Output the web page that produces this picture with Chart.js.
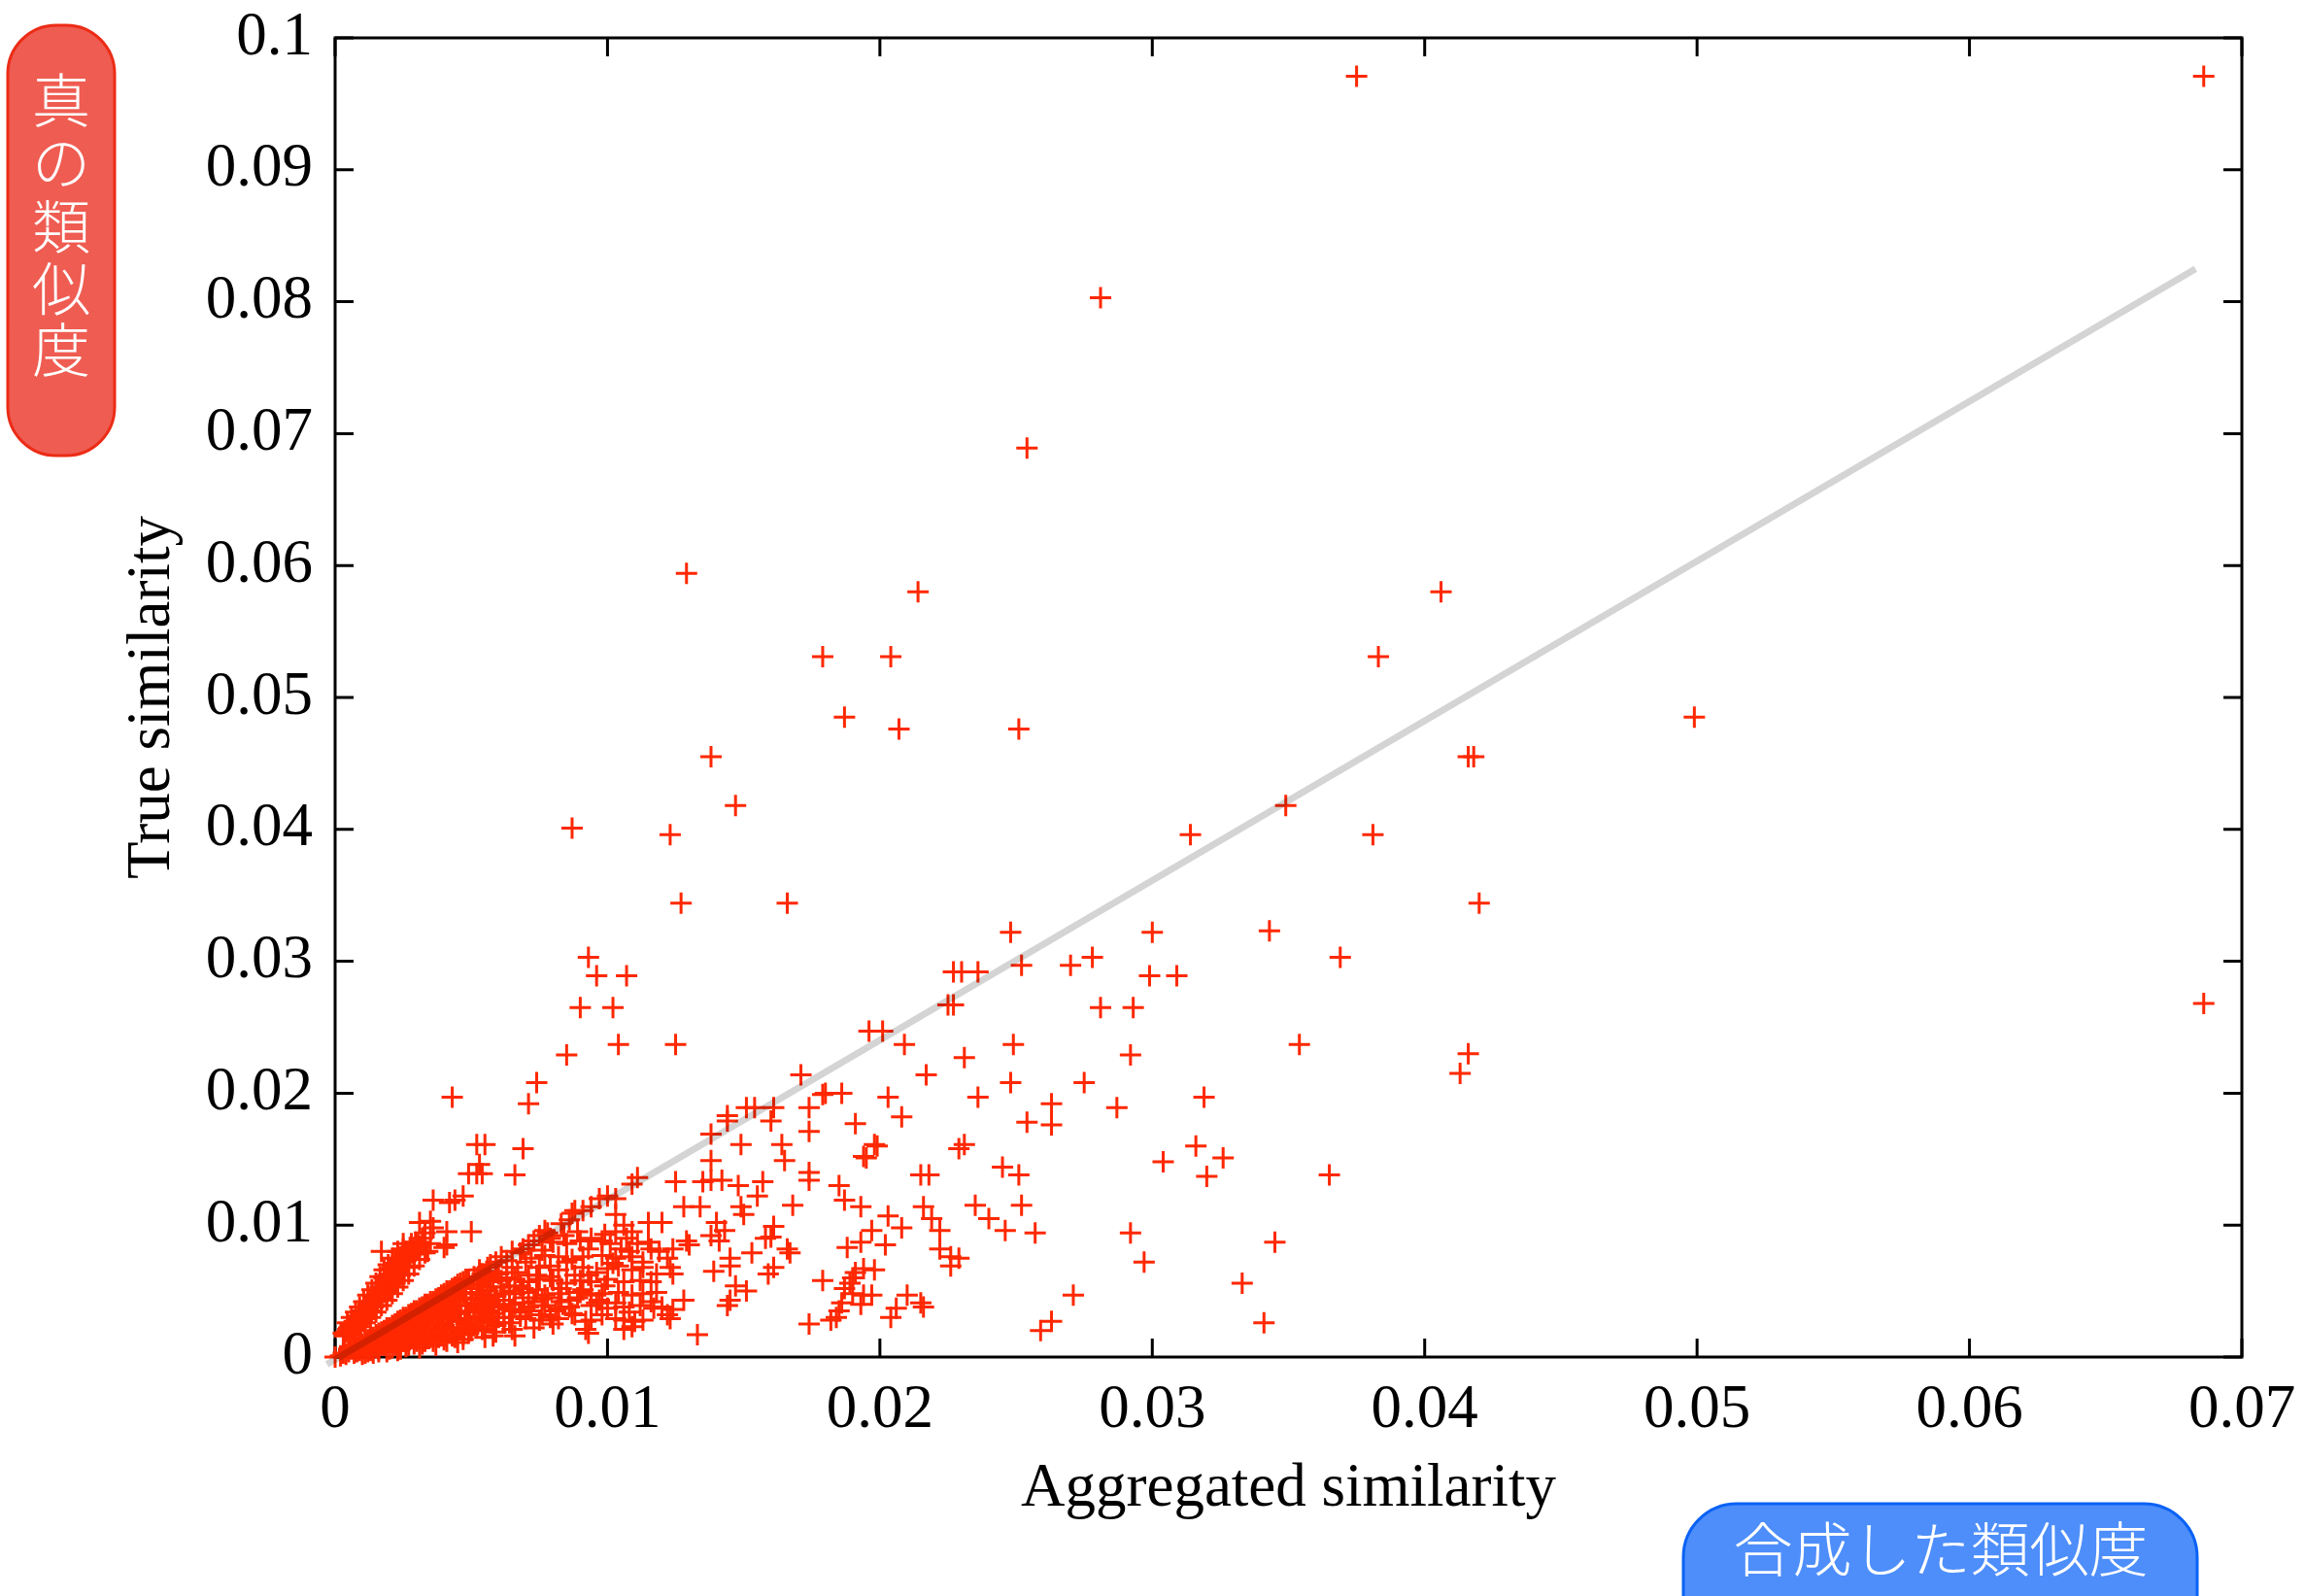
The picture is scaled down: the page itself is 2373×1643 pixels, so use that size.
<!DOCTYPE html>
<html>
<head>
<meta charset="utf-8">
<script src="https://cdn.jsdelivr.net/npm/chart.js@4/dist/chart.umd.min.js"></script>
<style>
html,body{margin:0;padding:0;background:#fff;}
#wrap{width:2373px;height:1643px;position:relative;}
</style>
</head>
<body>
<div id="wrap"><canvas id="c" width="2373" height="1643"></canvas></div>
<script>
// ---- labels ----
const xTickLabels = ['0','0.01','0.02','0.03','0.04','0.05','0.06','0.07'];
const yTickLabels = ['0','0.01','0.02','0.03','0.04','0.05','0.06','0.07','0.08','0.09','0.1'];
const xTitle = 'Aggregated similarity';
const yTitle = 'True similarity';
const yNote = ['真','の','類','似','度'];
const xNote = '合成した類似度';

// ---- grey reference line (two end points) ----
const fitX = [-0.0003, 0.0683];
const fitY = [-0.00056, 0.0825];

// ---- scatter values (aggregated similarity, true similarity) ----
const outerX = [0.0375,0.0686,0.0281,0.0254,0.0129,0.0214,0.0406,0.0179,0.0204,0.0383,
0.0187,0.0207,0.0251,0.0499,0.0138,0.0416,0.0418,0.0147,0.0349,0.0087,
0.0123,0.0314,0.0381,0.0127,0.0166,0.0420,0.0248,0.0300,0.0343,0.0093,
0.0369,0.0686];
const outerY = [0.0971,0.0971,0.0803,0.0689,0.0594,0.0580,0.0580,0.0531,0.0531,0.0531,
0.0485,0.0476,0.0476,0.0485,0.0455,0.0455,0.0455,0.0418,0.0418,0.0401,
0.0396,0.0396,0.0396,0.0344,0.0344,0.0344,0.0322,0.0322,0.0323,0.0303,
0.0303,0.0268];

const upperLeftX = [0.0096,0.0107,0.0090,0.0102,0.0104,0.0125,0.0085,0.0074,0.0043,0.0071,
0.0171,0.0179,0.0180,0.0174,0.0151,0.0154,0.0161,0.0144];
const upperLeftY = [0.0289,0.0289,0.0265,0.0265,0.0237,0.0237,0.0229,0.0208,0.0197,0.0192,
0.0214,0.0199,0.0200,0.0189,0.0189,0.0189,0.0189,0.0183];

const upperMidX = [0.0227,0.0230,0.0236,0.0252,0.0270,0.0278,0.0299,0.0309,0.0225,0.0227,
0.0281,0.0293,0.0196,0.0201,0.0209,0.0231,0.0249,0.0292,0.0354,0.0217,
0.0248,0.0275,0.0186,0.0203,0.0236,0.0263,0.0287,0.0319,0.0416,0.0413];
const upperMidY = [0.0292,0.0292,0.0292,0.0297,0.0297,0.0303,0.0289,0.0289,0.0267,0.0267,
0.0265,0.0265,0.0247,0.0247,0.0237,0.0227,0.0237,0.0229,0.0237,0.0214,
0.0208,0.0208,0.0200,0.0197,0.0197,0.0192,0.0189,0.0197,0.0230,0.0215];

const lowerMidX = [0.0191,0.0208,0.0254,0.0263,0.0199,0.0198,0.0195,0.0194,0.0229,0.0231,
0.0316,0.0304,0.0326,0.0320,0.0365,0.0215,0.0218,0.0245,0.0251,0.0185,
0.0187,0.0193,0.0203,0.0208,0.0197,0.0216,0.0219,0.0222,0.0235,0.0240,
0.0246,0.0252,0.0257,0.0292,0.0297,0.0345,0.0333,0.0341,0.0271,0.0263,
0.0259,0.0188,0.0193,0.0202,0.0222,0.0226,0.0229,0.0226,0.0194,0.0198,
0.0191,0.0190,0.0189,0.0187,0.0190,0.0194,0.0197,0.0193,0.0186,0.0185,
0.0184,0.0210,0.0206,0.0204,0.0215,0.0216];
const lowerMidY = [0.0177,0.0182,0.0178,0.0176,0.0160,0.0161,0.0151,0.0152,0.0158,0.0161,
0.0160,0.0148,0.0151,0.0137,0.0138,0.0138,0.0138,0.0144,0.0138,0.0130,
0.0119,0.0114,0.0107,0.0098,0.0096,0.0114,0.0105,0.0096,0.0115,0.0105,
0.0096,0.0115,0.0094,0.0094,0.0072,0.0087,0.0056,0.0026,0.0047,0.0027,
0.0020,0.0083,0.0087,0.0085,0.0082,0.0076,0.0075,0.0069,0.0067,0.0066,
0.0064,0.0060,0.0056,0.0052,0.0048,0.0047,0.0047,0.0040,0.0041,0.0035,
0.0030,0.0047,0.0037,0.0030,0.0041,0.0038];

const steepX = [0.0052,0.0055,0.0069,0.0053,0.0049,0.0052,0.0054,0.0066,0.0036,0.0042,
0.0044,0.0047,0.0031,0.0035,0.0036,0.0041,0.0050,0.0017,0.0025,0.0028,
0.0031,0.0034,0.0040,0.0041,0.0027,0.0025,0.0023,0.0022,0.0020,0.0018,
0.0017,0.0015,0.0013,0.0011,0.00095,0.00077,0.0006,0.00047,0.0029,0.0026,
0.0024,0.0021,0.0024,0.0019,0.0022,0.0016,0.0019,0.0014,0.0017,0.0012,
0.0015,0.0010,0.0013,0.00085,0.0011,0.0007,0.0009,0.00055,0.00075,0.0004,
0.0006,0.0030,0.0032,0.0026,0.0020,0.0018,0.0027,0.0033,0.0022];
const steepY = [0.0161,0.0161,0.0158,0.0146,0.0139,0.0139,0.0139,0.0138,0.0119,0.0117,
0.0119,0.0122,0.0102,0.0103,0.0098,0.0095,0.0095,0.0080,0.0082,0.0086,
0.0084,0.0080,0.0083,0.0085,0.0075,0.0069,0.0065,0.0060,0.0055,0.0052,
0.0048,0.0043,0.0038,0.0033,0.0030,0.0026,0.0023,0.0021,0.0078,0.0073,
0.0070,0.0063,0.0062,0.0058,0.0056,0.0050,0.0049,0.0045,0.0044,0.0040,
0.0039,0.0035,0.0034,0.0031,0.0029,0.0027,0.0025,0.0024,0.0022,0.0019,
0.0018,0.0081,0.0090,0.0080,0.0066,0.0060,0.0068,0.0094,0.0071];

const steepExtraX = [0.00035,0.0005,0.0005,0.00065,0.00065,0.0008,0.0008,0.0009,0.0010,0.0010,
0.0011,0.00115,0.00125,0.00125,0.00135,0.0014,0.00145,0.00155,0.0016,0.00165,
0.0017,0.00175,0.00185,0.00185,0.00195,0.0020,0.00205,0.0021,0.00215,0.00225,
0.0023,0.00235,0.00245,0.0025,0.00255,0.00265,0.00275,0.00285,0.00295,0.00305];
const steepExtraY = [0.0016,0.0019,0.0022,0.0021,0.0025,0.0024,0.0028,0.0027,0.0032,0.0028,
0.0035,0.0031,0.0039,0.0035,0.0042,0.0038,0.0046,0.0042,0.0048,0.0053,
0.0046,0.0056,0.0050,0.0055,0.0062,0.0058,0.0060,0.0068,0.0064,0.0068,
0.0073,0.0067,0.0076,0.0072,0.0079,0.0077,0.0083,0.0081,0.0087,0.0085];

const steepEdgeX = [0.0007,0.0009,0.0011,0.0013,0.0015,0.0017,0.0019,0.0021,0.0023,0.0025,
0.0027,0.0029,0.0031,0.0033,0.0035,0.0003,0.00045,0.0006,0.00075,0.0009,
0.00105,0.0012,0.00135,0.0015,0.00165,0.0018,0.00195,0.0021,0.0023,0.0025];
const steepEdgeY = [0.0020,0.0023,0.0026,0.0030,0.0034,0.0039,0.0043,0.0048,0.0053,0.0058,
0.0063,0.0069,0.0074,0.0079,0.0086,0.0018,0.0026,0.0030,0.0034,0.0038,
0.0042,0.0047,0.0051,0.0056,0.0061,0.0066,0.0070,0.0075,0.0080,0.0086];

const midX = [0.0144,0.0138,0.0160,0.0174,0.0164,0.0149,0.0138,0.0165,0.0174,0.0174,
0.0125,0.0135,0.0138,0.0142,0.0148,0.0157,0.0155,0.0128,0.0134,0.0149,
0.0150,0.0168,0.0140,0.0143,0.0138,0.0141,0.0161,0.0160,0.0158,0.0166,
0.0167,0.0153,0.0145,0.0145,0.0139,0.0161,0.0159,0.0147,0.0151,0.0145,
0.0144,0.0179,0.0174,0.0182,0.0133,0.0129,0.0130,0.0124,0.0120,0.0115,
0.0122,0.0123,0.0124,0.0118,0.0116,0.0128,0.0124,0.0122,0.0111,0.0109,
0.0103,0.0103,0.0097,0.0094,0.0087,0.0086,0.0088,0.0077,0.0075,0.0071,
0.0069,0.0061,0.0059,0.0056,0.0089,0.0103,0.0109,0.0080,0.0085,0.0090,
0.0094,0.0098,0.0101,0.0105,0.0107,0.0111,0.0115,0.0116,0.0119,0.0072,
0.0077,0.0082,0.0087,0.0091,0.0098,0.0103,0.0109,0.0075,0.0082,0.0091,
0.0100,0.0104,0.0109,0.0113,0.0061,0.0066,0.0071,0.0075,0.0080,0.0085,
0.0090,0.0094,0.0100,0.0106,0.0112,0.0066,0.0071,0.0077,0.0082,0.0090,
0.0094,0.0098,0.0104,0.0109,0.0113,0.0118,0.0071,0.0077,0.0082,0.0086,
0.0094,0.0100,0.0106,0.0112,0.0117,0.0120,0.0075,0.0082,0.0092,0.0094,
0.0103,0.0106,0.0110,0.0113,0.0123,0.0106,0.0109,0.0093,0.0092,0.0055,
0.0058,0.0065,0.0066,0.0045,0.0047,0.0078,0.0083,0.0091,0.0100,0.0065];
const midY = [0.0179,0.0169,0.0179,0.0171,0.0161,0.0161,0.0149,0.0149,0.0140,0.0134,
0.0133,0.0133,0.0134,0.0134,0.0130,0.0133,0.0122,0.0114,0.0114,0.0114,
0.0108,0.0115,0.0102,0.0096,0.0092,0.0088,0.0099,0.0091,0.0090,0.0082,
0.0079,0.0079,0.0075,0.0069,0.0065,0.0068,0.0063,0.0054,0.0050,0.0043,
0.0039,0.0058,0.0025,0.0028,0.0017,0.0088,0.0085,0.0082,0.0102,0.0102,
0.0075,0.0068,0.0063,0.0063,0.0057,0.0043,0.0036,0.0032,0.0136,0.0131,
0.0120,0.0108,0.0120,0.0114,0.0109,0.0104,0.0111,0.0096,0.0092,0.0085,
0.0082,0.0076,0.0072,0.0068,0.0095,0.0095,0.0095,0.0087,0.0086,0.0088,
0.0090,0.0088,0.0086,0.0082,0.0090,0.0086,0.0087,0.0082,0.0080,0.0075,
0.0077,0.0076,0.0074,0.0076,0.0077,0.0075,0.0076,0.0068,0.0066,0.0068,
0.0067,0.0069,0.0066,0.0068,0.0058,0.0059,0.0057,0.0059,0.0058,0.0056,
0.0058,0.0057,0.0059,0.0057,0.0058,0.0048,0.0049,0.0047,0.0048,0.0049,
0.0047,0.0048,0.0049,0.0047,0.0048,0.0049,0.0038,0.0039,0.0037,0.0038,
0.0039,0.0037,0.0038,0.0039,0.0037,0.0038,0.0028,0.0029,0.0027,0.0028,
0.0029,0.0028,0.0027,0.0028,0.0029,0.0021,0.0023,0.0018,0.0021,0.0015,
0.0016,0.0021,0.0016,0.0011,0.00135,0.0094,0.0101,0.0111,0.0122,0.0080];

const midExtraX = [0.0053,0.0057,0.0063,0.0068,0.0073,0.0079,0.0065,0.0070,0.0076,0.0084,
0.0062,0.0069,0.0074,0.0079,0.0085,0.0093,0.0099,0.0106,0.0088,0.0096,
0.0102,0.0108,0.0113,0.0064,0.0069,0.0076,0.0083,0.0089,0.0097,0.0103,
0.0080,0.0087,0.0098,0.0108,0.0116,0.0073,0.0062,0.0068,0.0059,0.0079];
const midExtraY = [0.0066,0.0070,0.0073,0.0079,0.0088,0.0090,0.0068,0.0072,0.0081,0.0092,
0.0048,0.0052,0.0062,0.0069,0.0072,0.0082,0.0093,0.0100,0.0062,0.0064,
0.0071,0.0080,0.0072,0.0036,0.0041,0.0044,0.0042,0.0045,0.0043,0.0041,
0.0025,0.0033,0.0032,0.0034,0.0042,0.0022,0.0026,0.0034,0.0019,0.0030];

const coreX = [0,0.0003,0.0005,0.0006,0.0007,0.0008,0.0009,0.0010,0.0010,0.0011,
0.0012,0.0012,0.0013,0.0014,0.0014,0.0015,0.0016,0.0016,0.0017,0.0018,
0.0018,0.0019,0.0019,0.0020,0.0020,0.0021,0.0022,0.0022,0.0023,0.0023,
0.0024,0.0024,0.0025,0.0025,0.0026,0.0026,0.0027,0.0027,0.0028,0.0028,
0.0029,0.0029,0.0030,0.0030,0.0031,0.0031,0.0032,0.0032,0.0033,0.0033,
0.0034,0.0034,0.0035,0.0035,0.0036,0.0036,0.0037,0.0037,0.0038,0.0038,
0.0039,0.0039,0.0040,0.0040,0.0041,0.0041,0.0042,0.0042,0.0043,0.0043,
0.0044,0.0044,0.0045,0.0045,0.0046,0.0046,0.0047,0.0047,0.0048,0.0048,
0.0049,0.0049,0.0050,0.0050,0.0051,0.0051,0.0052,0.0052,0.0053,0.0053,
0.0054,0.0054,0.0055,0.0055,0.0056,0.0056,0.0057,0.0058,0.0058,0.0059,
0.0059,0.0060,0.0060,0.0061,0.0062,0.0062,0.0063,0.0064,0.0064,0.0065,
0.0066,0.0067,0.0068,0.0068,0.0069,0.0070,0.0071,0.0072,0.0073,0.0074,
0.0076,0.0078,0.0079,0.0081,0.0083,0.0086,0.0088,0.0091,0.0093,0.0096,
0.0099];
const coreY = [0,0.0003,0.0004,0.0006,0.0003,0.0008,0.0005,0.0010,0.0002,0.0007,
0.0013,0.0004,0.0009,0.0015,0.0003,0.0011,0.0006,0.0018,0.0014,0.0009,
0.0020,0.0004,0.0016,0.0022,0.0012,0.0007,0.0019,0.0025,0.0014,0.0005,
0.0028,0.0010,0.0022,0.0017,0.0030,0.0008,0.0025,0.0013,0.0033,0.0020,
0.0010,0.0028,0.0035,0.0016,0.0023,0.0007,0.0038,0.0019,0.0030,0.0012,
0.0040,0.0026,0.0015,0.0034,0.0042,0.0021,0.0009,0.0037,0.0045,0.0029,
0.0017,0.0033,0.0048,0.0024,0.0012,0.0040,0.0050,0.0030,0.0020,0.0036,
0.0053,0.0015,0.0043,0.0027,0.0056,0.0033,0.0022,0.0048,0.0059,0.0039,
0.0018,0.0029,0.0052,0.0044,0.0035,0.0024,0.0060,0.0040,0.0030,0.0055,
0.0021,0.0047,0.0037,0.0062,0.0027,0.0050,0.0042,0.0033,0.0058,0.0024,
0.0046,0.0063,0.0038,0.0053,0.0030,0.0043,0.0060,0.0026,0.0050,0.0035,
0.0040,0.0064,0.0031,0.0054,0.0045,0.0029,0.0062,0.0035,0.0042,0.0051,
0.0032,0.0045,0.0061,0.0035,0.0052,0.0043,0.0032,0.0051,0.0062,0.0041,
0.0054];

const coreExtraX = [0.0002,0.0004,0.0005,0.0007,0.0008,0.0009,0.0010,0.0011,0.0011,0.0012,
0.0013,0.0013,0.0014,0.0015,0.0015,0.0016,0.0016,0.0017,0.0017,0.0018,
0.0019,0.0019,0.0020,0.0020,0.0021,0.0021,0.0022,0.0022,0.0023,0.0023,
0.0024,0.0024,0.0025,0.0025,0.0026,0.0026,0.0027,0.0027,0.0028,0.0028,
0.0029,0.0029,0.0030,0.0030,0.0031,0.0031,0.0032,0.0032,0.0033,0.0033,
0.0034,0.0034,0.0035,0.0035,0.0036,0.0036,0.0037,0.0037,0.0038,0.0038,
0.0039,0.0039,0.0040,0.0040,0.0041,0.0041,0.0042,0.0042,0.0043,0.0043,
0.0044,0.0044,0.0045,0.0045,0.0046,0.0046,0.0047,0.0047,0.0048,0.0048,
0.0049,0.0049,0.0050,0.0050,0.0051,0.0051,0.0052,0.0052,0.0053,0.0053,
0.0054,0.0054,0.0055,0.0056,0.0056,0.0057,0.0057,0.0058,0.0059,0.0060];
const coreExtraY = [0.0001,0.0002,0.0006,0.0008,0.0004,0.0010,0.0006,0.0012,0.0003,0.0008,
0.0015,0.0005,0.0011,0.0017,0.0007,0.0013,0.0004,0.0019,0.0009,0.0015,
0.0022,0.0011,0.0006,0.0018,0.0024,0.0014,0.0009,0.0021,0.0027,0.0017,
0.0006,0.0023,0.0030,0.0012,0.0020,0.0026,0.0032,0.0009,0.0016,0.0029,
0.0035,0.0022,0.0012,0.0031,0.0037,0.0018,0.0027,0.0010,0.0040,0.0022,
0.0033,0.0014,0.0042,0.0025,0.0036,0.0012,0.0044,0.0020,0.0031,0.0015,
0.0047,0.0026,0.0038,0.0013,0.0050,0.0029,0.0042,0.0022,0.0052,0.0016,
0.0034,0.0046,0.0055,0.0021,0.0039,0.0028,0.0057,0.0017,0.0044,0.0025,
0.0059,0.0034,0.0020,0.0049,0.0061,0.0031,0.0045,0.0023,0.0059,0.0038,
0.0063,0.0029,0.0044,0.0060,0.0035,0.0026,0.0053,0.0040,0.0064,0.0030];

const groupsX = [outerX, upperLeftX, upperMidX, lowerMidX, steepX, steepExtraX, steepEdgeX, midX, midExtraX, coreX, coreExtraX];
const groupsY = [outerY, upperLeftY, upperMidY, lowerMidY, steepY, steepExtraY, steepEdgeY, midY, midExtraY, coreY, coreExtraY];
const points = [];
groupsX.forEach((gx, g) => {
  const gy = groupsY[g];
  const n = Math.min(gx.length, gy.length);
  for (let i = 0; i < n; i++) points.push({x: gx[i], y: gy[i]});
});
const fitLine = fitX.map((x, i) => ({x: x, y: fitY[i]}));

// ---- style ----
const RED = 'rgb(255,40,0)';
const SERIF = '"Liberation Serif","Times New Roman",serif';
const CJK = '"Noto Sans CJK JP","Noto Sans CJK SC",sans-serif';

const framePlugin = {
  id: 'frame',
  beforeDatasetsDraw(chart) {
    const {ctx, chartArea: a, scales: {x, y}} = chart;
    ctx.save();
    ctx.strokeStyle = '#000';
    ctx.lineWidth = 3;
    ctx.strokeRect(a.left, a.top, a.right - a.left, a.bottom - a.top);
    const L = 19;
    ctx.beginPath();
    x.ticks.forEach(t => {
      const px = x.getPixelForValue(t.value);
      ctx.moveTo(px, a.bottom); ctx.lineTo(px, a.bottom - L);
      ctx.moveTo(px, a.top); ctx.lineTo(px, a.top + L);
    });
    y.ticks.forEach(t => {
      const py = y.getPixelForValue(t.value);
      ctx.moveTo(a.left, py); ctx.lineTo(a.left + L, py);
      ctx.moveTo(a.right, py); ctx.lineTo(a.right - L, py);
    });
    ctx.stroke();
    ctx.restore();
  }
};

function roundBox(ctx, x, y, w, h, r) {
  ctx.beginPath();
  ctx.moveTo(x + r, y);
  ctx.lineTo(x + w - r, y);
  ctx.arcTo(x + w, y, x + w, y + r, r);
  ctx.lineTo(x + w, y + h - r);
  ctx.arcTo(x + w, y + h, x + w - r, y + h, r);
  ctx.lineTo(x + r, y + h);
  ctx.arcTo(x, y + h, x, y + h - r, r);
  ctx.lineTo(x, y + r);
  ctx.arcTo(x, y, x + r, y, r);
  ctx.closePath();
}

const notePlugin = {
  id: 'notes',
  afterDraw(chart) {
    const ctx = chart.ctx;
    ctx.save();
    roundBox(ctx, 8, 26, 110, 443, 50);
    ctx.fillStyle = 'rgb(239,92,82)';
    ctx.fill();
    ctx.lineWidth = 3;
    ctx.strokeStyle = 'rgb(236,44,22)';
    ctx.stroke();
    ctx.fillStyle = '#fff';
    ctx.font = '300 60px ' + CJK;
    ctx.textAlign = 'center';
    ctx.textBaseline = 'middle';
    const ys = [103, 167, 233, 297, 360];
    yNote.forEach((ch, i) => ctx.fillText(ch, 63, ys[i]));
    roundBox(ctx, 1733, 1548, 529, 200, 55);
    ctx.fillStyle = 'rgb(77,142,250)';
    ctx.fill();
    ctx.strokeStyle = 'rgb(10,98,245)';
    ctx.stroke();
    ctx.fillStyle = '#fff';
    ctx.font = '300 61px ' + CJK;
    ctx.fillText(xNote, 1998, 1595);
    ctx.restore();
  }
};

new Chart(document.getElementById('c'), {
  type: 'scatter',
  data: {
    datasets: [
      {
        type: 'line',
        data: fitLine,
        borderColor: 'rgba(0,0,0,0.17)',
        borderWidth: 7,
        pointRadius: 0,
        fill: false,
        clip: false,
        order: 0
      },
      {
        data: points,
        pointStyle: 'cross',
        pointRadius: 11,
        pointHoverRadius: 11,
        pointBorderWidth: 3,
        borderColor: RED,
        backgroundColor: RED,
        clip: false,
        order: 1
      }
    ]
  },
  options: {
    responsive: false,
    animation: false,
    devicePixelRatio: 1,
    events: [],
    layout: {padding: {top: 39, right: 65, bottom: 0, left: 0}},
    plugins: {legend: {display: false}, tooltip: {enabled: false}},
    scales: {
      x: {
        type: 'linear', min: 0, max: 0.07,
        grid: {display: false, drawTicks: false},
        border: {display: false},
        ticks: {
          stepSize: 0.01, padding: 18, color: '#000', autoSkip: false, maxRotation: 0,
          font: {family: SERIF, size: 63},
          callback: (v, i) => xTickLabels[i]
        },
        title: {display: true, text: xTitle, color: '#000', font: {family: SERIF, size: 63}, padding: {top: 0, bottom: 72}},
        afterFit(s) { s.height = 246; s.paddingLeft = 0; s.paddingRight = 0; }
      },
      y: {
        type: 'linear', min: 0, max: 0.1,
        grid: {display: false, drawTicks: false},
        border: {display: false},
        ticks: {
          stepSize: 0.01, padding: 23, color: '#000', autoSkip: false,
          font: {family: SERIF, size: 63},
          callback: (v, i) => yTickLabels[i]
        },
        title: {display: true, text: yTitle, color: '#000', font: {family: SERIF, size: 63}, padding: {top: 120, bottom: 0}},
        afterFit(s) { s.width = 345; s.paddingTop = 0; s.paddingBottom = 0; }
      }
    }
  },
  plugins: [framePlugin, notePlugin]
});
</script>
</body>
</html>
